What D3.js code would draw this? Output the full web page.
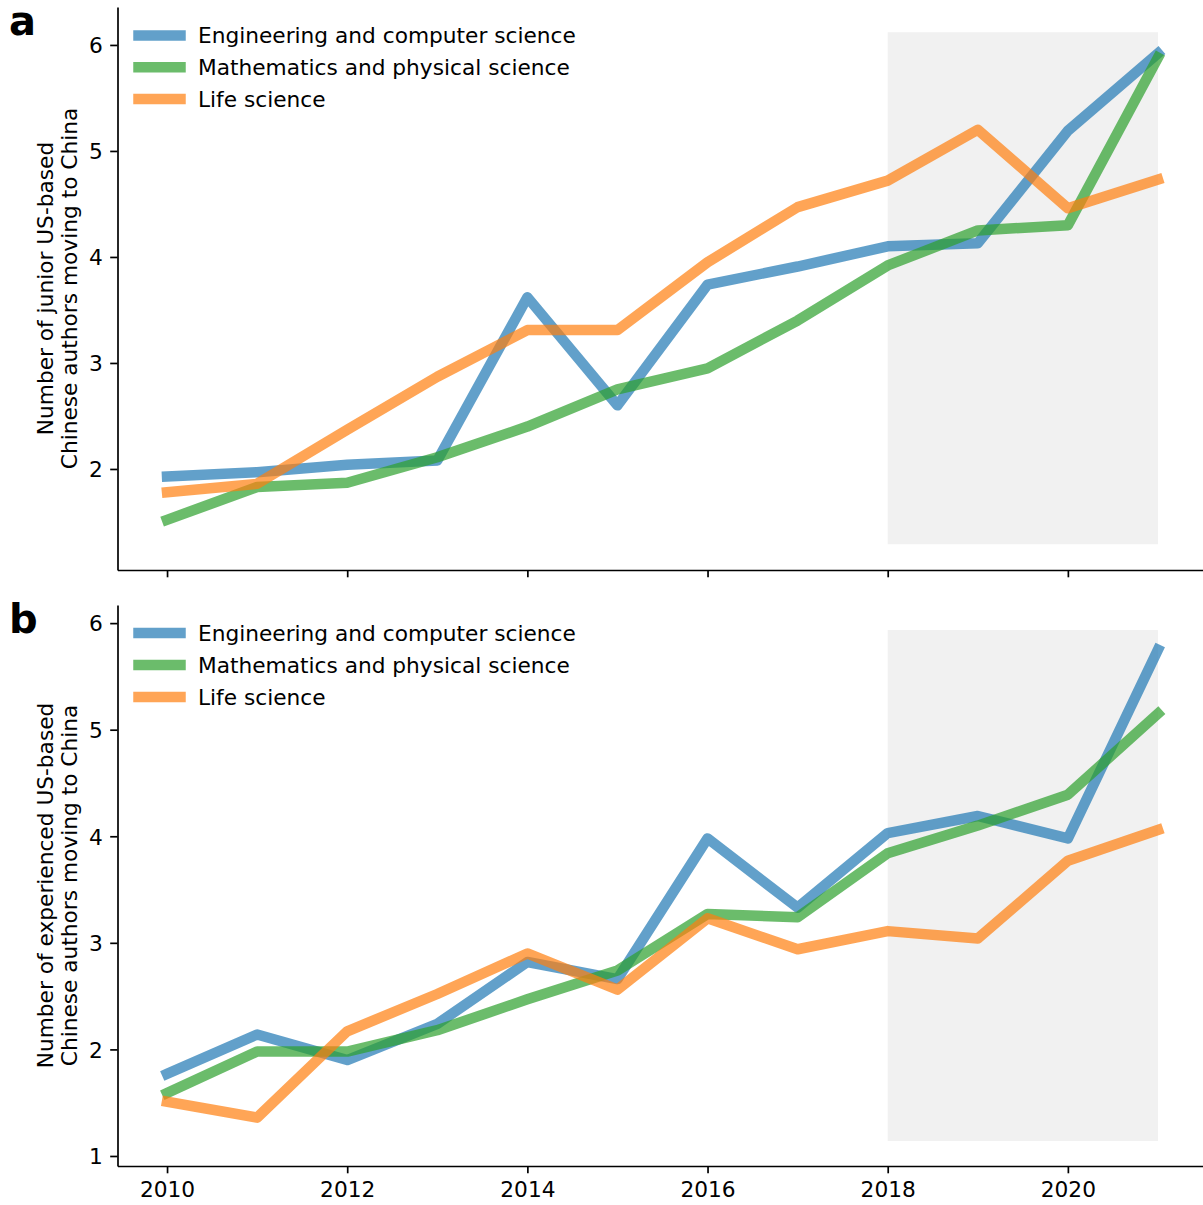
<!DOCTYPE html>
<html>
<head>
<meta charset="utf-8">
<script src="https://cdn.jsdelivr.net/npm/d3@7/dist/d3.min.js"></script>
<style>
  html, body { margin: 0; padding: 0; background: #fff; }
  svg { display: block; }
  text { font-family: "DejaVu Sans", sans-serif; fill: #000; }
</style>
</head>
<body>
<div id="chart"></div>
<script>
// ---- data ----
const years = [2010, 2011, 2012, 2013, 2014, 2015, 2016, 2017, 2018, 2019, 2020, 2021];
const seriesNames = ["Engineering and computer science", "Mathematics and physical science", "Life science"];
const seriesColors = ["#1f77b4", "#2ca02c", "#ff7f0e"];

const juniorEng  = [1.93, 1.97, 2.04, 2.08, 3.62, 2.60, 3.74, 3.91, 4.10, 4.13, 5.19, 5.92];
const juniorMath = [1.52, 1.83, 1.87, 2.11, 2.40, 2.75, 2.95, 3.40, 3.92, 4.25, 4.30, 5.88];
const juniorLife = [1.78, 1.86, 2.37, 2.87, 3.31, 3.31, 3.95, 4.47, 4.72, 5.20, 4.46, 4.73];

const expEng  = [1.77, 2.14, 1.90, 2.24, 2.82, 2.66, 3.98, 3.33, 4.03, 4.19, 3.98, 5.75];
const expMath = [1.59, 1.98, 1.98, 2.18, 2.47, 2.74, 3.27, 3.24, 3.84, 4.10, 4.39, 5.15];
const expLife = [1.51, 1.36, 2.17, 2.52, 2.90, 2.56, 3.23, 2.94, 3.11, 3.04, 3.77, 4.06];

const xTicks = [2010, 2012, 2014, 2016, 2018, 2020];
const yTicksTop = [2, 3, 4, 5, 6];
const yTicksBot = [1, 2, 3, 4, 5, 6];
const shadeYears = [2018, 2021];
const shadeTop = [1.29, 6.12];
const shadeBot = [1.14, 5.935];
const ylimTop = [1.047, 6.358];
const ylimBot = [0.906, 6.17];
const ylabelTop = ["Number of junior US-based", "Chinese authors moving to China"];
const ylabelBot = ["Number of experienced US-based", "Chinese authors moving to China"];

// ---- layout ----
const W = 1203, H = 1205;
const svg = d3.select("#chart").append("svg").attr("width", W).attr("height", H);
const FS = 21.7;
const x = d3.scaleLinear().domain([2009.45, 2021.55]).range([117.5, 1207.5]);

function panel(opts) {
  const y = d3.scaleLinear().domain(opts.ylim).range([opts.bottom, opts.top]);
  const g = svg.append("g");

  // shaded region
  g.append("rect")
    .attr("x", x(shadeYears[0])).attr("width", x(shadeYears[1]) - x(shadeYears[0]))
    .attr("y", y(opts.shade[1])).attr("height", y(opts.shade[0]) - y(opts.shade[1]))
    .attr("fill", "#f1f1f1");

  // lines
  const line = d3.line().x((d, i) => x(years[i])).y(d => y(d));
  opts.series.forEach((s, k) => {
    g.append("path").datum(s).attr("d", line)
      .attr("fill", "none").attr("stroke", seriesColors[k]).attr("stroke-opacity", 0.7)
      .attr("stroke-width", 10.5).attr("stroke-linejoin", "round").attr("stroke-linecap", "square");
  });

  // axes
  const yAxis = d3.axisLeft(y).tickValues(opts.yticks).tickFormat(d3.format("d"))
    .tickSize(7.3).tickPadding(7.3).tickSizeOuter(0);
  const ya = g.append("g").attr("transform", `translate(${x.range()[0]},0)`).call(yAxis);
  const xAxis = d3.axisBottom(x).tickValues(xTicks).tickFormat(opts.xlabels ? d3.format("d") : () => "")
    .tickSize(7.3).tickPadding(7.3).tickSizeOuter(0);
  const xa = g.append("g").attr("transform", `translate(0,${opts.bottom})`).call(xAxis);
  [ya, xa].forEach(a => {
    a.select(".domain").attr("stroke", "#000").attr("stroke-width", 1.7);
    a.selectAll(".tick line").attr("stroke", "#000").attr("stroke-width", 1.7);
    a.selectAll(".tick text").attr("font-size", FS).attr("font-family", "DejaVu Sans").attr("fill", "#000");
  });
  ya.selectAll(".tick text").attr("dy", "0.36em");
  xa.selectAll(".tick text").attr("dy", "0.74em");

  // y label (two lines)
  const cy = (opts.top + opts.bottom) / 2;
  opts.ylabel.forEach((t, i) => {
    g.append("text").attr("transform", `translate(${53 + i * 23.5},${cy}) rotate(-90)`)
      .attr("text-anchor", "middle").attr("font-size", FS).text(t);
  });

  // panel letter
  g.append("text").attr("x", 9).attr("y", opts.top + opts.letterDy)
    .attr("font-size", 40).attr("font-weight", "bold").text(opts.letter);

  // legend
  opts.legendRows.forEach((ry, k) => {
    g.append("line").attr("x1", 138.5).attr("x2", 180.5).attr("y1", ry).attr("y2", ry)
      .attr("stroke", seriesColors[k]).attr("stroke-opacity", 0.7)
      .attr("stroke-width", 10.5).attr("stroke-linecap", "square");
    g.append("text").attr("x", 198).attr("y", ry).attr("dy", "0.36em")
      .attr("font-size", FS).text(seriesNames[k]);
  });
}

panel({
  top: 7, bottom: 570, ylim: ylimTop, shade: shadeTop, yticks: yTicksTop,
  series: [juniorEng, juniorMath, juniorLife], xlabels: false,
  ylabel: ylabelTop, letter: "a", letterDy: 28, legendRows: [35.5, 67.3, 99]
});
panel({
  top: 605, bottom: 1166, ylim: ylimBot, shade: shadeBot, yticks: yTicksBot,
  series: [expEng, expMath, expLife], xlabels: true,
  ylabel: ylabelBot, letter: "b", letterDy: 28, legendRows: [633, 665, 697]
});
</script>
</body>
</html>
